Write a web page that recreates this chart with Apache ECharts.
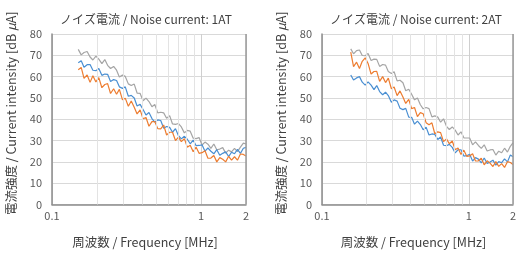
<!DOCTYPE html>
<html>
<head>
<meta charset="utf-8">
<script src="https://cdn.jsdelivr.net/npm/echarts@6/dist/echarts.min.js"></script>
<style>
  html, body { margin: 0; padding: 0; background: #fff; }
  #chart { width: 519px; height: 254px; }
</style>
</head>
<body>
<div id="chart"></div>
<script>
// 周波数 [MHz]（両グラフ共通）
var freqs = [0.150, 0.157, 0.164, 0.172, 0.180, 0.188, 0.197, 0.206, 0.216, 0.226,
  0.236, 0.247, 0.259, 0.271, 0.283, 0.297, 0.310, 0.325, 0.340, 0.356,
  0.372, 0.390, 0.408, 0.427, 0.447, 0.468, 0.489, 0.512, 0.536, 0.561,
  0.587, 0.615, 0.643, 0.673, 0.705, 0.737, 0.772, 0.808, 0.845, 0.885,
  0.926, 0.969, 1.014, 1.062, 1.111, 1.163, 1.217, 1.274, 1.334, 1.396,
  1.461, 1.529, 1.600, 1.675, 1.753, 1.835, 1.920, 2.000];

// 補助グリッド線の周波数
var minorFreqs = [0.2, 0.3, 0.4, 0.5, 0.6, 0.7, 0.8, 0.9];

var titles = ['ノイズ電流 / Noise current: 1AT', 'ノイズ電流 / Noise current: 2AT'];

// 1AT
var gray1 = [72.8, 70.2, 71.3, 71.8, 69.2, 67.8, 69.6, 68.2, 66.1, 68.0,
  65.3, 63.8, 64.8, 63.0, 59.8, 60.7, 60.1, 56.6, 55.8, 56.5,
  52.3, 52.1, 48.7, 49.9, 48.3, 45.9, 46.9, 43.0, 43.3, 43.0,
  40.5, 41.7, 37.8, 37.6, 38.0, 36.4, 33.6, 34.8, 34.4, 31.1,
  30.9, 31.4, 27.9, 29.3, 28.3, 26.3, 28.4, 25.7, 26.0, 26.7,
  24.1, 25.5, 24.7, 26.3, 24.8, 26.9, 28.8, 28.4];
var blue1 = [66.5, 67.4, 64.4, 65.6, 65.7, 63.0, 62.8, 63.8, 60.6, 61.2,
  61.1, 57.7, 58.6, 58.2, 55.2, 54.5, 55.2, 50.8, 51.2, 50.0,
  46.2, 47.0, 44.6, 42.0, 43.2, 40.3, 38.7, 39.7, 39.4, 35.8,
  36.6, 36.2, 33.9, 35.6, 32.3, 30.8, 32.0, 30.6, 28.5, 30.2,
  27.6, 27.7, 28.0, 25.0, 26.5, 25.0, 23.8, 25.7, 23.1, 24.0,
  24.7, 22.5, 24.5, 23.8, 25.9, 24.0, 26.4, 26.8];
var orange1 = [63.2, 64.3, 59.2, 60.8, 57.3, 60.4, 57.5, 59.5, 54.8, 56.3,
  56.7, 52.1, 54.3, 51.7, 54.0, 49.1, 49.9, 46.1, 48.6, 45.6,
  42.5, 44.4, 40.2, 40.8, 36.7, 38.9, 38.9, 35.6, 35.5, 37.3,
  32.6, 33.9, 33.9, 30.0, 31.6, 29.5, 30.9, 26.9, 27.8, 24.8,
  26.9, 24.0, 24.3, 25.2, 21.7, 21.8, 23.0, 20.0, 22.0, 21.2,
  20.0, 22.6, 20.8, 22.4, 20.8, 23.7, 23.5, 22.8];

// 2AT
var gray2 = [null, 73.0, 70.7, 72.2, 72.5, 69.9, 69.8, 70.9, 67.6, 68.2,
  68.1, 64.8, 65.7, 65.4, 62.4, 61.5, 62.3, 58.0, 58.3, 57.1,
  53.4, 54.1, 51.7, 49.1, 50.0, 46.8, 44.9, 45.5, 45.0, 41.1,
  41.6, 41.0, 38.6, 40.2, 36.7, 35.2, 36.4, 34.9, 32.6, 34.1,
  31.3, 31.2, 31.2, 28.0, 29.4, 27.7, 26.3, 28.0, 25.1, 25.6,
  25.8, 23.2, 25.0, 24.3, 26.4, 24.6, 27.3, 28.9];
var blue2 = [null, 60.8, 58.4, 59.4, 60.0, 57.4, 56.0, 57.5, 56.0, 53.9,
  55.8, 53.0, 51.5, 52.7, 51.1, 48.0, 49.1, 48.5, 45.2, 44.5,
  45.1, 41.0, 40.9, 37.7, 39.1, 37.5, 35.1, 36.3, 32.6, 33.1,
  32.9, 30.5, 31.7, 27.8, 27.6, 28.2, 26.8, 24.2, 25.7, 25.7,
  22.7, 22.9, 23.6, 20.4, 22.0, 21.3, 19.5, 21.8, 19.3, 19.9,
  20.8, 18.5, 20.1, 19.6, 21.4, 20.0, 23.2, 22.4];
var orange2 = [null, 71.5, 64.7, 66.8, 63.8, 67.2, 68.8, 66.2, 61.2, 62.4,
  62.5, 57.8, 60.0, 57.2, 59.3, 54.3, 55.1, 51.1, 53.3, 50.4,
  47.4, 49.3, 45.0, 45.5, 41.2, 43.1, 42.6, 38.4, 37.4, 38.3,
  33.2, 34.1, 33.7, 29.5, 30.8, 28.5, 29.8, 25.7, 26.5, 23.5,
  25.5, 22.6, 22.8, 23.8, 20.4, 20.5, 21.7, 18.6, 20.5, 19.4,
  17.8, 20.1, 17.9, 19.2, 17.4, 20.1, 19.7, 18.8];

var panels = [
  { gray: gray1, blue: blue1, orange: orange1 },
  { gray: gray2, blue: blue2, orange: orange2 }
];

var COLORS = { gray: '#a5a5a5', blue: '#4a8fd2', orange: '#ed7d31' };
var FONT = '"Noto Sans CJK JP", "Noto Sans", sans-serif';
var GRID_LEFT = [52, 322];

function pairs(arr) {
  return freqs.map(function (f, i) { return [f, arr[i]]; });
}

var myChart = echarts.init(document.getElementById('chart'));

var option = {
  animation: false,
  textStyle: { fontFamily: FONT },
  title: titles.map(function (t, k) {
    return {
      text: t,
      left: GRID_LEFT[k] + 89,
      top: 8,
      textAlign: 'center',
      textStyle: { fontFamily: FONT, fontSize: 12, fontWeight: 'normal', color: '#404040' }
    };
  }),
  grid: GRID_LEFT.map(function (l) {
    return { left: l, top: 34, width: 194, height: 178 };
  }),
  xAxis: [0, 1].map(function (k) {
    return {
      type: 'log',
      gridIndex: k,
      logBase: 10,
      min: 0.1,
      max: 2,
      name: '周波数 / Frequency [MHz]',
      nameLocation: 'middle',
      nameGap: 32,
      nameTextStyle: { fontFamily: FONT, fontSize: 12.5, color: '#404040', padding: [0, 8, 0, 0] },
      axisLine: { lineStyle: { color: '#8c8c8c', width: 1.5 } },
      axisTick: { show: false },
      axisLabel: { fontSize: 11, color: '#595959', showMaxLabel: true, margin: 6,
        formatter: function (v) { return String(+v.toPrecision(3)); } },
      splitLine: { show: true, lineStyle: { color: '#cfcfcf', width: 1 } }
    };
  }),
  yAxis: [0, 1].map(function (k) {
    return {
      type: 'value',
      gridIndex: k,
      min: 0,
      max: 80,
      interval: 10,
      name: '{a|電流強度 / Current intensity [dB }{i|μ}{a|A]}',
      nameLocation: 'middle',
      nameGap: 34,
      nameRotate: 90,
      nameTextStyle: {
        fontFamily: FONT, fontSize: 12.5, color: '#404040', padding: [0, 0, 0, 12],
        rich: {
          a: { fontFamily: FONT, fontSize: 12.5, color: '#404040' },
          i: { fontFamily: FONT, fontSize: 12.5, color: '#404040', fontStyle: 'italic' }
        }
      },
      axisLine: { show: true, lineStyle: { color: '#8c8c8c', width: 1.5 } },
      axisTick: { show: false },
      axisLabel: { fontSize: 11, color: '#595959', margin: 10 },
      splitLine: { lineStyle: { color: '#d9d9d9', width: 1 } }
    };
  }),
  series: []
};

[0, 1].forEach(function (k) {
  // 補助グリッド線
  option.series.push({
    type: 'line',
    xAxisIndex: k,
    yAxisIndex: k,
    data: [],
    silent: true,
    z: 1,
    markLine: {
      silent: true,
      symbol: 'none',
      label: { show: false },
      lineStyle: { color: '#e3e3e3', type: 'solid', width: 1 },
      data: minorFreqs.map(function (f) { return { xAxis: f }; })
        .concat([{ xAxis: 2, lineStyle: { color: '#9a9a9a', width: 1.5 } }])
    }
  });
  ['gray', 'blue', 'orange'].forEach(function (name) {
    option.series.push({
      name: name,
      type: 'line',
      xAxisIndex: k,
      yAxisIndex: k,
      data: pairs(panels[k][name]),
      showSymbol: false,
      symbol: 'none',
      connectNulls: false,
      lineStyle: { color: COLORS[name], width: 1.2 },
      itemStyle: { color: COLORS[name] },
      z: 3
    });
  });
});

myChart.setOption(option);
</script>
</body>
</html>
